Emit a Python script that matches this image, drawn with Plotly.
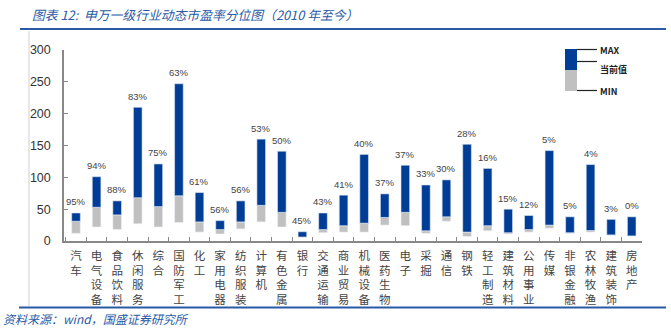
import plotly.graph_objects as go

# 申万一级行业动态市盈率：2010 年至今的最小值、当前值、最大值及当前分位
industries = ["汽车", "电气设备", "食品饮料", "休闲服务", "综合", "国防军工", "化工",
              "家用电器", "纺织服装", "计算机", "有色金属", "银行", "交通运输", "商业贸易",
              "机械设备", "医药生物", "电子", "采掘", "通信", "钢铁", "轻工制造",
              "建筑材料", "公用事业", "传媒", "非银金融", "农林牧渔", "建筑装饰", "房地产"]
pe_min = [12, 22, 18, 27, 22, 29, 14, 11, 19, 30, 22, 5.8, 13, 14,
          14, 25, 24, 12, 31, 7, 16, 11, 14, 20, 12, 14, 9, 8]
pe_now = [31, 53, 41, 68, 54, 71, 30, 18, 30, 56, 45, 6.3, 18, 24,
          28, 37, 45, 16, 38, 14, 24, 13, 18, 25, 13, 16.5, 9.6, 8]
pe_max = [44, 101, 63, 210, 121, 247, 76, 32, 63, 160, 141, 14.5, 44, 72,
          136, 74, 119, 88, 96, 152, 114, 50, 40, 142, 38, 120, 34, 38]
percentile = [95, 94, 88, 83, 75, 63, 61, 56, 56, 53, 50, 45, 43, 41,
              40, 37, 37, 33, 30, 28, 16, 15, 12, 5, 5, 4, 3, 0]

BLUE = "#003d96"
GRAY = "#c0c0c0"
ACCENT = "#2a5aa6"

# vertical (stacked-character) axis labels
labels = ["<br>".join(name) for name in industries]

W, H = 671, 328
L, R, T, B = 64, 29, 50, 87
PW, PH = W - L - R, H - T - B


def px(x):
    return (x - L) / PW


def py(y):
    return (H - B - y) / PH


fig = go.Figure()
fig.add_trace(go.Bar(
    x=labels, y=[n - m for n, m in zip(pe_now, pe_min)], base=pe_min,
    marker=dict(color=GRAY, line=dict(color="#eef1f6", width=0.6)),
    name="当前值-MIN", showlegend=False, hoverinfo="skip"))
fig.add_trace(go.Bar(
    x=labels, y=[M - n for M, n in zip(pe_max, pe_now)], base=pe_now,
    marker=dict(color=BLUE, line=dict(color="#dfe6f2", width=0.6)),
    name="MAX-当前值", showlegend=False, hoverinfo="skip"))

# percentile labels above each bar's MAX
for lab, top, p in zip(labels, pe_max, percentile):
    fig.add_annotation(x=lab, y=top, xref="x", yref="y", text=f"{p}%",
                       showarrow=False, yanchor="middle", yshift=11,
                       font=dict(family="Liberation Sans, Arial", size=9.5,
                                 color="#444444"))

fig.update_layout(
    width=W, height=H,
    margin=dict(l=L, r=R, t=T, b=B, pad=0),
    paper_bgcolor="white", plot_bgcolor="white",
    barmode="overlay", bargap=0.58,
    xaxis=dict(
        type="category", tickson="boundaries", ticks="inside", ticklen=4,
        tickcolor="#888888", showline=True, linecolor="#888888", linewidth=1.5,
        showgrid=False, tickangle=0, ticklabelstandoff=3,
        tickfont=dict(family="Noto Sans CJK SC", size=11.5, color="#444444"),
    ),
    yaxis=dict(
        range=[0, 300], tickvals=[0, 50, 100, 150, 200, 250, 300],
        ticks="inside", ticklen=4, tickcolor="#888888",
        showline=True, linecolor="#888888", linewidth=1.5,
        showgrid=False, zeroline=False, ticklabelstandoff=9,
        tickfont=dict(family="Liberation Sans, Arial", size=12.5, color="#333333"),
    ),
)

# page frame: title rule, source rule and left border
fig.add_shape(type="line", xref="paper", yref="paper",
              x0=px(20), x1=px(666), y0=py(29), y1=py(29),
              line=dict(color=ACCENT, width=2))
fig.add_shape(type="line", xref="paper", yref="paper",
              x0=px(19), x1=px(666), y0=py(307.5), y1=py(307.5),
              line=dict(color=ACCENT, width=2))
fig.add_shape(type="line", xref="paper", yref="paper",
              x0=px(29), x1=px(29), y0=py(31), y1=py(306),
              line=dict(color="#d0d0d0", width=1))

fig.add_annotation(xref="paper", yref="paper", x=px(30), y=py(15),
                   xanchor="left", yanchor="middle", showarrow=False,
                   text="<i>图表 12:  申万一级行业动态市盈率分位图（2010 年至今）</i>",
                   font=dict(family="Noto Sans CJK SC", size=12.8, color=ACCENT))
fig.add_annotation(xref="paper", yref="paper", x=px(1), y=py(318),
                   xanchor="left", yanchor="middle", showarrow=False,
                   text="<i>资料来源：wind，国盛证券研究所</i>",
                   font=dict(family="Noto Sans CJK SC", size=12, color=ACCENT))

# legend key: MAX / 当前值 / MIN
fig.add_shape(type="rect", xref="paper", yref="paper",
              x0=px(565), x1=px(577), y0=py(49), y1=py(70),
              fillcolor=BLUE, line=dict(width=0))
fig.add_shape(type="rect", xref="paper", yref="paper",
              x0=px(565), x1=px(577), y0=py(70), y1=py(91),
              fillcolor=GRAY, line=dict(width=0))
for yy in (49.5, 61.5, 90.5):
    fig.add_shape(type="line", xref="paper", yref="paper",
                  x0=px(577), x1=px(597), y0=py(yy), y1=py(yy),
                  line=dict(color="#222222", width=1.2))
for txt, yy in (("MAX", 50), ("当前值", 69), ("MIN", 91)):
    fig.add_annotation(xref="paper", yref="paper", x=px(598), y=py(yy),
                       xanchor="left", yanchor="middle", showarrow=False,
                       text=f"<b>{txt}</b>",
                       font=dict(family="Noto Sans CJK SC", size=9, color="#222222"))

fig.write_html("out.html")
